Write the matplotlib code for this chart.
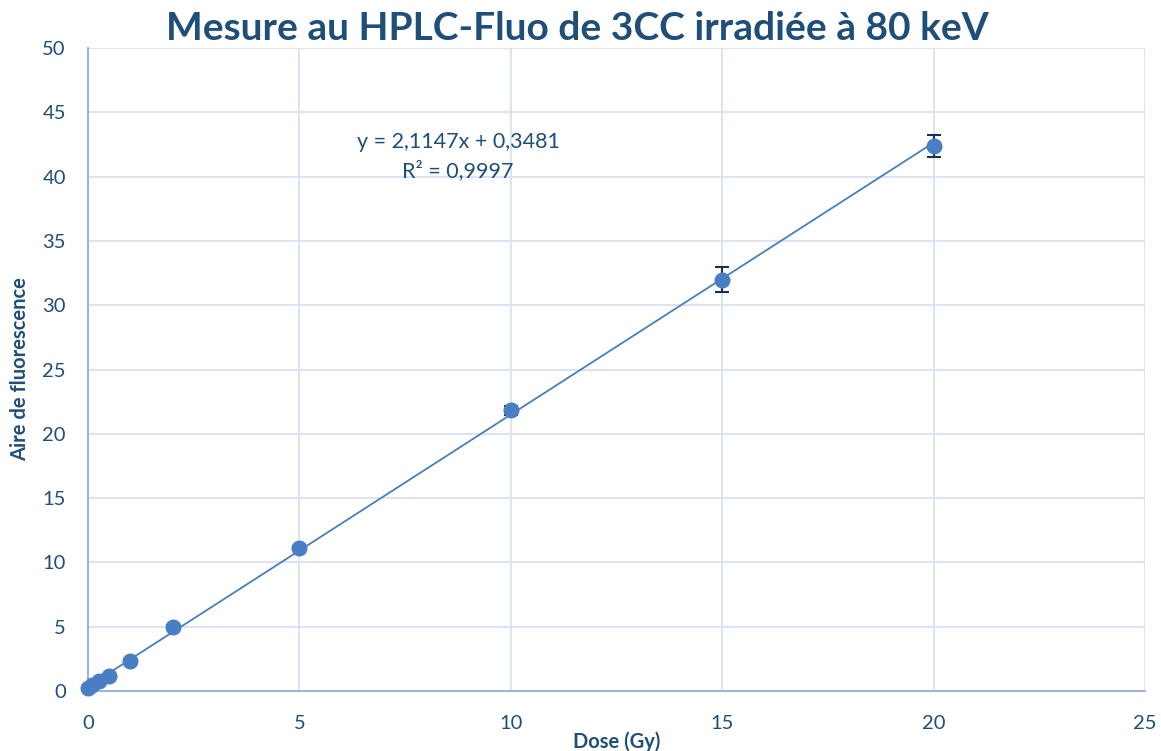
import matplotlib.pyplot as plt
import numpy as np

plt.rcParams['font.family'] = ['Lato', 'DejaVu Sans']

# doses (Gy) and measured fluorescence areas
dose = [0, 0.1, 0.25, 0.5, 1, 2, 5, 10, 15, 20]
aire = [0.2, 0.45, 0.8, 1.15, 2.35, 5.0, 11.15, 21.85, 32.0, 42.4]
err = [0.05, 0.05, 0.05, 0.05, 0.1, 0.1, 0.15, 0.35, 0.95, 0.85]

# linear fit parameters
pente = 2.1147
origine = 0.3481
r2 = 0.9997

dark = '#1F4E79'
blue = '#4A7EC4'

fig = plt.figure(figsize=(11.61, 7.51), dpi=100)
ax = fig.add_axes([0.0758, 0.0799, 0.9104, 0.8561])

xs = np.array([0, 20])
ax.plot(xs, pente * xs + origine, color='#4A7EBB', lw=1.3, zorder=2)
eb = ax.errorbar(dose, aire, yerr=err, fmt='o', color=blue, ms=10.5,
                 ecolor='#1A2E4F', elinewidth=1.5, capsize=5, capthick=1.5, zorder=3)
for art in eb.get_children():
    art.set_clip_on(False)

ax.set_xlim(0, 25)
ax.set_ylim(0, 50)
ax.set_xticks(range(0, 26, 5))
ax.set_yticks(range(0, 51, 5))
ax.grid(True, color='#D9E2F3', lw=1.3)
ax.set_axisbelow(True)
for s in ['top', 'right']:
    ax.spines[s].set_visible(False)
for s in ['left', 'bottom']:
    ax.spines[s].set_color('#9DB5DE')
    ax.spines[s].set_linewidth(1.5)
ax.tick_params(length=0, labelsize=14.5, colors=dark)
ax.tick_params(axis='y', pad=16)
ax.tick_params(axis='x', pad=17)

ax.text(8.75, 42.7, f'y = {pente:.4f}x + {origine:.4f}'.replace('.', ','),
        ha='center', va='center', fontsize=15.5, color=dark)
ax.text(8.75, 40.5, f'R² = {r2:.4f}'.replace('.', ','),
        ha='center', va='center', fontsize=15.5, color=dark)

ax.set_xlabel('Dose (Gy)', fontsize=14.5, fontweight='bold', color=dark, labelpad=0)
ax.set_ylabel('Aire de fluorescence', fontsize=14.5, fontweight='bold', color=dark, labelpad=9)
fig.text(0.497, 0.962, 'Mesure au HPLC-Fluo de 3CC irradiée à 80 keV', ha='center', va='center',
         fontsize=28, fontweight='bold', color=dark)

fig.savefig('out.png', dpi=100)
